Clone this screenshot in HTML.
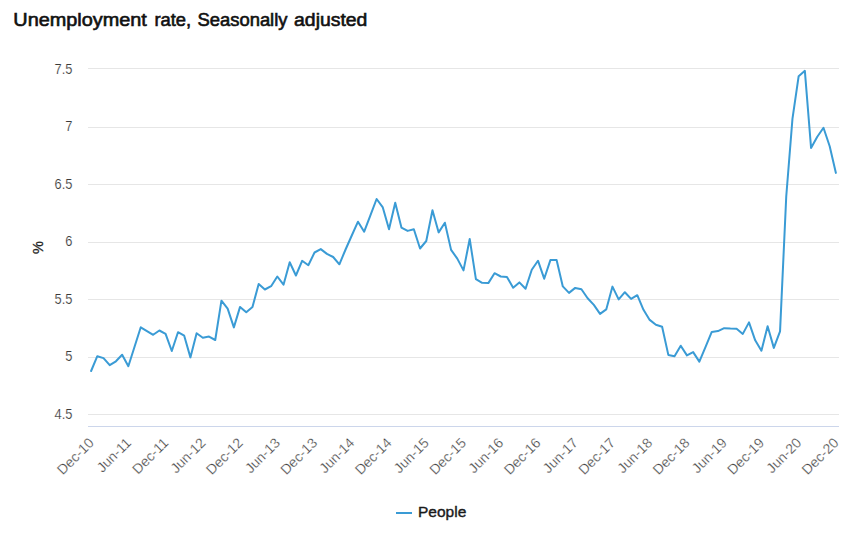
<!DOCTYPE html>
<html><head><meta charset="utf-8"><style>
html,body{margin:0;padding:0;background:#fff;}
body{width:857px;height:535px;overflow:hidden;position:relative;font-family:"Liberation Sans",sans-serif;}
svg{position:absolute;left:0;top:0;}
</style></head><body>
<svg width="857" height="535" viewBox="0 0 857 535" font-family="Liberation Sans, sans-serif">
<rect width="857" height="535" fill="#fff"/>
<g font-size="18" font-weight="normal" fill="#111" stroke="#111" stroke-width="0.6">
<text x="13.3" y="25.9" textLength="133.6" lengthAdjust="spacingAndGlyphs">Unemployment</text>
<text x="154.4" y="25.9" textLength="36.8" lengthAdjust="spacingAndGlyphs">rate,</text>
<text x="197.5" y="25.9" textLength="90.0" lengthAdjust="spacingAndGlyphs">Seasonally</text>
<text x="294.1" y="25.9" textLength="73.3" lengthAdjust="spacingAndGlyphs">adjusted</text>
</g>
<line x1="88" x2="839" y1="68.5" y2="68.5" stroke="#e6e6e6" stroke-width="1"/>
<line x1="88" x2="839" y1="127.5" y2="127.5" stroke="#e6e6e6" stroke-width="1"/>
<line x1="88" x2="839" y1="184.5" y2="184.5" stroke="#e6e6e6" stroke-width="1"/>
<line x1="88" x2="839" y1="242.5" y2="242.5" stroke="#e6e6e6" stroke-width="1"/>
<line x1="88" x2="839" y1="299.5" y2="299.5" stroke="#e6e6e6" stroke-width="1"/>
<line x1="88" x2="839" y1="357.5" y2="357.5" stroke="#e6e6e6" stroke-width="1"/>
<line x1="88" x2="839" y1="414.5" y2="414.5" stroke="#e6e6e6" stroke-width="1"/>
<line x1="88" x2="839" y1="426.5" y2="426.5" stroke="#ccd6eb" stroke-width="1"/>
<g font-size="14" fill="#3a3a3a" stroke="#fff" stroke-width="0.15">
<text x="72.5" y="74.00" text-anchor="end" transform="translate(72.5,0) scale(0.92,1) translate(-72.5,0)">7.5</text>
<text x="72.5" y="131.47" text-anchor="end" transform="translate(72.5,0) scale(0.92,1) translate(-72.5,0)">7</text>
<text x="72.5" y="188.94" text-anchor="end" transform="translate(72.5,0) scale(0.92,1) translate(-72.5,0)">6.5</text>
<text x="72.5" y="246.41" text-anchor="end" transform="translate(72.5,0) scale(0.92,1) translate(-72.5,0)">6</text>
<text x="72.5" y="303.88" text-anchor="end" transform="translate(72.5,0) scale(0.92,1) translate(-72.5,0)">5.5</text>
<text x="72.5" y="361.35" text-anchor="end" transform="translate(72.5,0) scale(0.92,1) translate(-72.5,0)">5</text>
<text x="72.5" y="418.82" text-anchor="end" transform="translate(72.5,0) scale(0.92,1) translate(-72.5,0)">4.5</text>
</g>
<text transform="translate(42.6,247.5) rotate(-90)" text-anchor="middle" font-size="14.5" fill="#222" stroke="#222" stroke-width="0.3">%</text>
<g font-size="14" fill="#383838" stroke="#fff" stroke-width="0.28">
<text text-anchor="end" transform="translate(94.70,443.7) rotate(-45) scale(1.0,1)">Dec-10</text>
<text text-anchor="end" transform="translate(131.94,443.7) rotate(-45) scale(1.0,1)">Jun-11</text>
<text text-anchor="end" transform="translate(169.18,443.7) rotate(-45) scale(1.0,1)">Dec-11</text>
<text text-anchor="end" transform="translate(206.42,443.7) rotate(-45) scale(1.0,1)">Jun-12</text>
<text text-anchor="end" transform="translate(243.66,443.7) rotate(-45) scale(1.0,1)">Dec-12</text>
<text text-anchor="end" transform="translate(280.90,443.7) rotate(-45) scale(1.0,1)">Jun-13</text>
<text text-anchor="end" transform="translate(318.14,443.7) rotate(-45) scale(1.0,1)">Dec-13</text>
<text text-anchor="end" transform="translate(355.38,443.7) rotate(-45) scale(1.0,1)">Jun-14</text>
<text text-anchor="end" transform="translate(392.62,443.7) rotate(-45) scale(1.0,1)">Dec-14</text>
<text text-anchor="end" transform="translate(429.86,443.7) rotate(-45) scale(1.0,1)">Jun-15</text>
<text text-anchor="end" transform="translate(467.10,443.7) rotate(-45) scale(1.0,1)">Dec-15</text>
<text text-anchor="end" transform="translate(504.34,443.7) rotate(-45) scale(1.0,1)">Jun-16</text>
<text text-anchor="end" transform="translate(541.58,443.7) rotate(-45) scale(1.0,1)">Dec-16</text>
<text text-anchor="end" transform="translate(578.82,443.7) rotate(-45) scale(1.0,1)">Jun-17</text>
<text text-anchor="end" transform="translate(616.06,443.7) rotate(-45) scale(1.0,1)">Dec-17</text>
<text text-anchor="end" transform="translate(653.30,443.7) rotate(-45) scale(1.0,1)">Jun-18</text>
<text text-anchor="end" transform="translate(690.54,443.7) rotate(-45) scale(1.0,1)">Dec-18</text>
<text text-anchor="end" transform="translate(727.78,443.7) rotate(-45) scale(1.0,1)">Jun-19</text>
<text text-anchor="end" transform="translate(765.02,443.7) rotate(-45) scale(1.0,1)">Dec-19</text>
<text text-anchor="end" transform="translate(802.26,443.7) rotate(-45) scale(1.0,1)">Jun-20</text>
<text text-anchor="end" transform="translate(839.50,443.7) rotate(-45) scale(1.0,1)">Dec-20</text>
</g>
<polyline points="91.10,371.00 97.31,356.20 103.52,358.10 109.72,365.20 115.93,361.30 122.14,354.80 128.34,366.20 134.55,346.70 140.76,327.30 146.96,331.10 153.17,334.80 159.38,330.50 165.58,333.90 171.79,351.00 178.00,332.20 184.20,335.70 190.41,357.40 196.62,333.30 202.82,337.70 209.03,336.60 215.24,340.00 221.44,300.70 227.65,308.60 233.86,327.40 240.06,306.90 246.27,312.30 252.48,307.10 258.68,283.90 264.89,289.50 271.10,286.20 277.30,276.50 283.51,284.70 289.71,262.30 295.92,275.50 302.13,260.80 308.33,265.20 314.54,252.50 320.75,249.10 326.95,253.90 333.16,257.00 339.37,264.30 345.57,249.50 351.78,235.50 357.99,221.70 364.19,231.70 370.40,215.30 376.61,199.00 382.81,207.40 389.02,229.30 395.23,202.70 401.43,227.60 407.64,230.90 413.85,229.30 420.05,248.50 426.26,241.00 432.47,210.20 438.67,232.40 444.88,222.70 451.09,249.90 457.29,258.60 463.50,270.40 469.71,239.00 475.91,279.10 482.12,282.80 488.33,283.10 494.53,273.20 500.74,276.50 506.95,277.00 513.15,287.70 519.36,282.40 525.57,288.80 531.77,269.70 537.98,260.70 544.19,278.70 550.39,260.10 556.60,259.90 562.81,286.40 569.01,292.90 575.22,287.90 581.43,289.20 587.63,298.20 593.84,304.90 600.05,313.90 606.25,309.40 612.46,286.60 618.67,299.40 624.87,292.20 631.08,298.90 637.29,295.20 643.49,309.80 649.70,319.90 655.90,324.80 662.11,326.80 668.32,354.90 674.52,356.20 680.73,345.70 686.94,355.40 693.14,352.10 699.35,361.60 705.56,346.80 711.76,331.90 717.97,331.10 724.18,328.20 730.38,328.60 736.59,328.80 742.80,333.90 749.00,322.40 755.21,340.30 761.42,350.70 767.62,326.20 773.83,347.90 780.04,331.40 786.24,196.50 792.45,118.90 798.66,76.20 804.86,70.80 811.07,148.00 817.28,136.80 823.48,127.80 829.69,146.20 835.90,172.90" fill="none" stroke="#3a9bd5" stroke-width="2" stroke-linejoin="round" stroke-linecap="round"/>
<line x1="396" x2="412" y1="513" y2="513" stroke="#3a9bd5" stroke-width="2"/>
<text x="418" y="517.2" font-size="15.5" font-weight="normal" fill="#1a1a1a" stroke="#1a1a1a" stroke-width="0.4" transform="translate(418,0) scale(1.0,1) translate(-418,0)">People</text>
</svg>
</body></html>
